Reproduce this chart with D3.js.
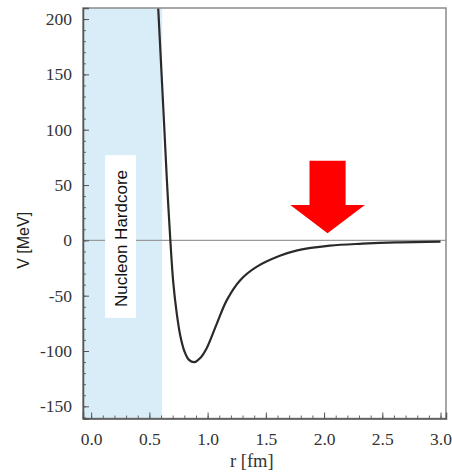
<!DOCTYPE html>
<html>
<head>
<meta charset="utf-8">
<script src="https://cdn.jsdelivr.net/npm/d3@7"></script>
<style>
  html, body { margin: 0; padding: 0; background: #fff; }
  svg { display: block; }
  .serif { font-family: "Liberation Serif", "Times New Roman", Times, serif; }
  .sans { font-family: "Liberation Sans", Arial, Helvetica, sans-serif; }
</style>
</head>
<body>
<svg id="chart" width="452" height="472"></svg>
<script>
// Nucleon–nucleon potential V(r), sampled points
const rValues = [0.570, 0.600, 0.625, 0.650, 0.680, 0.705, 0.735, 0.765, 0.800, 0.840, 0.890, 0.940, 0.990, 1.080, 1.165, 1.280, 1.420, 1.620, 1.770, 2.050, 2.330, 2.620, 3.000];
const vValues = [222, 160, 108, 55, 0, -38, -66, -86, -100, -108, -110, -106, -98, -75, -54, -36, -24, -14, -9, -4.8, -3, -1.8, -1.1];

// Hard-core radius and its label box
const hardcoreR = 0.61;
const hardcoreLabel = "Nucleon Hardcore";
const labelBoxR = [0.12, 0.385];
const labelBoxV = [-70, 77];

// Arrow marking the long-range tail (data units)
const arrowR = 2.03;
const arrowV = { top: 72, headBase: 32, tip: 6.5 };
const arrowHalfWidth = { shaft: 0.155, head: 0.32 };

// Axes
const xTicks = [0.0, 0.5, 1.0, 1.5, 2.0, 2.5, 3.0];
const xTickLabels = ["0.0", "0.5", "1.0", "1.5", "2.0", "2.5", "3.0"];
const yTicks = [-150, -100, -50, 0, 50, 100, 150, 200];
const yTickLabels = ["-150", "-100", "-50", "0", "50", "100", "150", "200"];
const xTitle = "r [fm]";
const yTitle = "V [MeV]";

const svg = d3.select("#chart");
const plotL = 83, plotR = 446, plotT = 8, plotB = 418.5;

const x = d3.scaleLinear().domain([-0.07, 3.047]).range([plotL, plotR]);
const y = d3.scaleLinear().domain([-161, 210]).range([plotB, plotT]);

svg.append("defs").append("clipPath").attr("id", "plot-clip")
  .append("rect").attr("x", plotL).attr("y", plotT)
  .attr("width", plotR - plotL).attr("height", plotB - plotT);

// Hard-core region
svg.append("rect")
  .attr("x", plotL).attr("y", plotT)
  .attr("width", x(hardcoreR) - plotL).attr("height", plotB - plotT)
  .attr("fill", "#d9edf8");

// Zero line
svg.append("line")
  .attr("x1", plotL).attr("x2", plotR)
  .attr("y1", y(0)).attr("y2", y(0))
  .attr("stroke", "#9a9a9a").attr("stroke-width", 1.2);

// Label box with vertical text
svg.append("rect")
  .attr("x", x(labelBoxR[0])).attr("y", y(labelBoxV[1]))
  .attr("width", x(labelBoxR[1]) - x(labelBoxR[0]))
  .attr("height", y(labelBoxV[0]) - y(labelBoxV[1]))
  .attr("fill", "#fff");

const lbx = (x(labelBoxR[0]) + x(labelBoxR[1])) / 2;
const lby = (y(labelBoxV[0]) + y(labelBoxV[1])) / 2;
svg.append("text")
  .attr("class", "sans")
  .attr("transform", `translate(${lbx + 6},${lby + 2}) rotate(-90)`)
  .attr("text-anchor", "middle")
  .style("font-size", "17px")
  .style("font-weight", "500")
  .attr("fill", "#111")
  .text(hardcoreLabel);

// Potential curve
const pts = rValues.map((r, i) => [r, vValues[i]]);
svg.append("path")
  .datum(pts)
  .attr("clip-path", "url(#plot-clip)")
  .attr("fill", "none")
  .attr("stroke", "#2a2a2a")
  .attr("stroke-width", 2.2)
  .attr("d", d3.line().x(d => x(d[0])).y(d => y(d[1])).curve(d3.curveCatmullRom.alpha(0.5)));

// Red arrow
const arrowPts = [
  [arrowR - arrowHalfWidth.shaft, arrowV.top],
  [arrowR + arrowHalfWidth.shaft, arrowV.top],
  [arrowR + arrowHalfWidth.shaft, arrowV.headBase],
  [arrowR + arrowHalfWidth.head, arrowV.headBase],
  [arrowR, arrowV.tip],
  [arrowR - arrowHalfWidth.head, arrowV.headBase],
  [arrowR - arrowHalfWidth.shaft, arrowV.headBase]
];
svg.append("polygon")
  .attr("points", arrowPts.map(p => `${x(p[0])},${y(p[1])}`).join(" "))
  .attr("fill", "#ff0000");

// Frame
svg.append("rect")
  .attr("x", plotL).attr("y", plotT)
  .attr("width", plotR - plotL).attr("height", plotB - plotT)
  .attr("fill", "none").attr("stroke", "#8a8a8a").attr("stroke-width", 1.5);

function styleTickText(g) {
  g.attr("font-family", null);
  g.selectAll("text")
    .attr("class", "serif")
    .style("font-size", "17.5px")
    .attr("fill", "#333");
}

// Bottom axis with inward ticks
const xAxisG = svg.append("g").attr("transform", `translate(0,${plotB})`);
xAxisG.call(d3.axisBottom(x).tickValues(d3.range(0, 31).map(i => i / 10)).tickSize(-3).tickFormat(""))
  .call(g => g.select(".domain").remove())
  .call(g => g.selectAll("line").attr("stroke", "#666"));
xAxisG.append("g").call(d3.axisBottom(x).tickValues(xTicks).tickSize(-6)
  .tickFormat((d, i) => xTickLabels[i]).tickPadding(14))
  .call(g => g.select(".domain").attr("stroke", "#555").attr("stroke-width", 1.5))
  .call(g => g.selectAll("line").attr("stroke", "#555"))
  .call(styleTickText);

// Left axis with inward ticks
const yAxisG = svg.append("g").attr("transform", `translate(${plotL},0)`);
yAxisG.call(d3.axisLeft(y).tickValues(d3.range(-160, 211, 10)).tickSize(-3).tickFormat(""))
  .call(g => g.select(".domain").remove())
  .call(g => g.selectAll("line").attr("stroke", "#666"));
yAxisG.append("g").call(d3.axisLeft(y).tickValues(yTicks).tickSize(-6)
  .tickFormat((d, i) => yTickLabels[i]).tickPadding(11))
  .call(g => g.select(".domain").attr("stroke", "#555").attr("stroke-width", 1.5))
  .call(g => g.selectAll("line").attr("stroke", "#555"))
  .call(styleTickText);

// Axis titles
svg.append("text")
  .attr("class", "serif")
  .attr("x", x(1.38)).attr("y", 467)
  .attr("text-anchor", "middle")
  .style("font-size", "18.5px").attr("fill", "#333")
  .text(xTitle);

svg.append("text")
  .attr("class", "sans")
  .attr("transform", `translate(29,${y(0)}) rotate(-90)`)
  .attr("text-anchor", "middle")
  .style("font-size", "16px").attr("fill", "#222")
  .text(yTitle);
</script>
</body>
</html>
